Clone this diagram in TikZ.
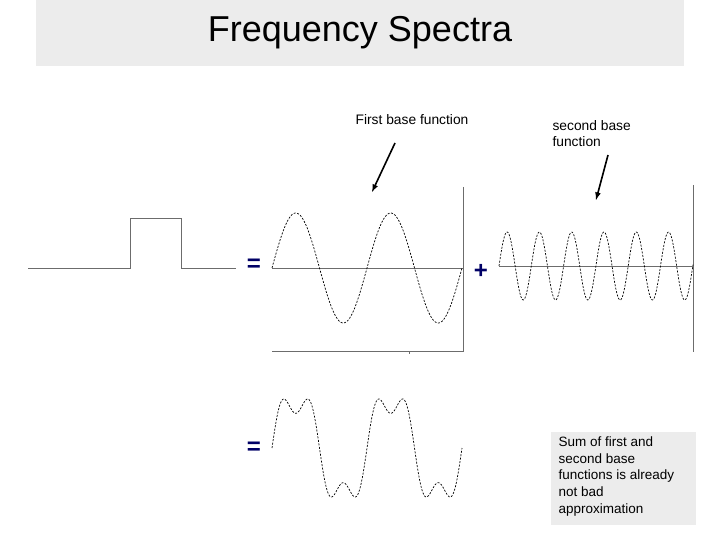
\documentclass[tikz,border=0pt]{standalone}
\usepackage{fontspec}
\setmainfont{Liberation Sans}
\begin{document}
\begin{tikzpicture}[x=1pt,y=-1pt,
  axis/.style={draw=gray!85!black,line width=0.9pt},
  wave/.style={line width=0.7pt,dash pattern=on 2pt off 1.5pt},
  arr/.style={line width=1.6pt,-latex},
  sym/.style={text=blue!40!black,font=\bfseries\fontsize{24}{24}\selectfont},
  lbl/.style={font=\fontsize{13.8}{16}\selectfont,align=left}]
\useasboundingbox (0,0) rectangle (720,540);
\fill[gray!15] (36,0) rectangle (684,66);
\node (title) at (360,33) {\fontsize{36}{40}\selectfont Frequency Spectra};
% rectangle pulse
\draw[axis] (28,268) -- (130,268) -- (130,218) -- (181,218) -- (181,268) -- (236,268);
\node[sym] (eq1) at (254,265) {=};
\node[sym] (eq2) at (254,448) {=};
\node[sym] (plus) at (481,271) {+};
% first wave frame
\draw[axis] (272,268) -- (463,268);
\draw[axis] (463,187) -- (463,352);
\draw[axis] (272,351) -- (463,351);
\draw[axis,line width=0.6pt] (409,351) -- (409,354);
\draw[wave,domain=272:462,samples=160] plot (\x,{268-55*sin(360/95*(\x-272))});
% second wave
\draw[axis] (499,266) -- (693,266);
\draw[axis] (693,185) -- (693,352);
\draw[wave,domain=499:693,samples=240] plot (\x,{266-34*sin(360/32.3*(\x-499))});
% sum wave
\draw[wave,domain=272:462,samples=240] plot (\x,{448-52*(sin(360/95*(\x-272))+sin(1080/95*(\x-272))/3)});
% labels
\node[lbl] (l1) at (412,120) {First base function};
\node[lbl,anchor=north west] (l2) at (549,117) {second base\\function};
\coordinate (a1s) at (395,143); \coordinate (a1e) at (372,192);
\coordinate (a2s) at (608,155); \coordinate (a2e) at (596,200);
\draw[arr] (a1s) -- (a1e);
\draw[arr] (a2s) -- (a2e);
\fill[gray!15] (551,432) rectangle (696,525);
\node[lbl,anchor=north west,font=\fontsize{13.5}{16.8}\selectfont] (sum) at (555,433) {Sum of first and\\second base\\functions is already\\not bad\\approximation};
\end{tikzpicture}
\end{document}
